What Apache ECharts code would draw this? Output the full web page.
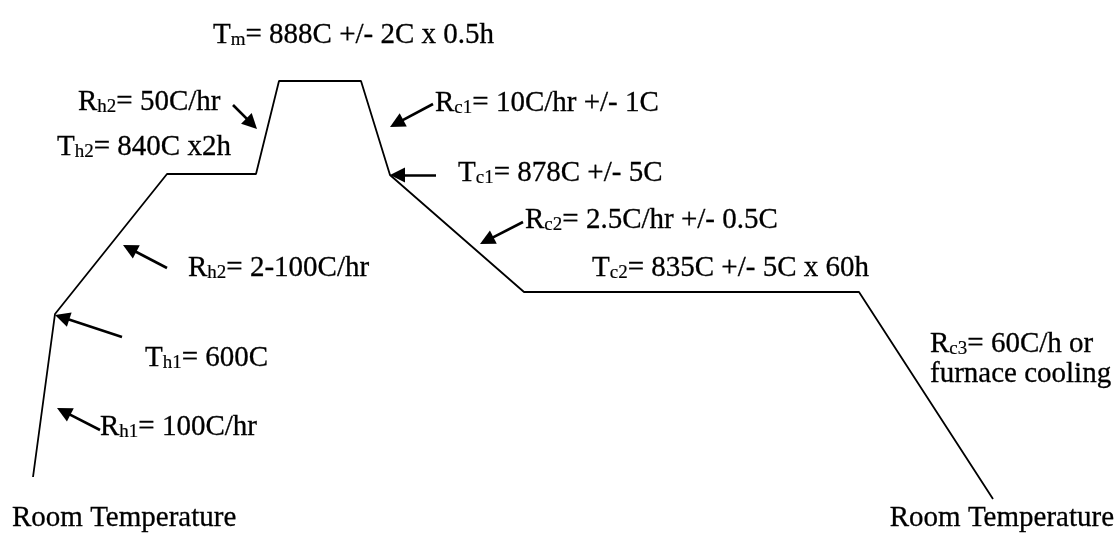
<!DOCTYPE html>
<html>
<head>
<meta charset="utf-8">
<script src="https://cdn.jsdelivr.net/npm/echarts@6/dist/echarts.min.js"></script>
<style>
  html, body { margin: 0; padding: 0; background: #fff; }
  #chart { width: 1115px; height: 533px; }
</style>
</head>
<body>
<div id="chart"></div>
<script>
// heat-treatment profile, schematic units (not to scale)
const profileX = [33, 55, 167, 256, 279, 361, 390, 524, 859, 993]
const profileY = [56, 219, 359, 359, 452, 452, 358, 241, 241, 34]

// arrows: tail -> tip
const arrowFrom = [[233, 428], [433, 429], [436, 358], [523, 311], [167, 265], [122, 196], [100, 103]]
const arrowTo = [[257, 404], [390, 406], [390, 358], [480, 289], [123, 288], [55, 218], [57, 125]]

// annotation texts, [main, sub, rest]
const noteText = [
  ['T', 'm', '= 888C +/- 2C x 0.5h'],
  ['R', 'h2', '= 50C/hr'],
  ['T', 'h2', '= 840C x2h'],
  ['R', 'c1', '= 10C/hr +/- 1C'],
  ['T', 'c1', '= 878C +/- 5C'],
  ['R', 'c2', '= 2.5C/hr +/- 0.5C'],
  ['T', 'c2', '= 835C +/- 5C x 60h'],
  ['R', 'h2', '= 2-100C/hr'],
  ['T', 'h1', '= 600C'],
  ['R', 'h1', '= 100C/hr'],
  ['R', 'c3', '= 60C/h or\nfurnace cooling'],
  ['', '', 'Room Temperature'],
  ['', '', 'Room Temperature']
]
const noteX = [213, 78, 57, 435, 458, 525, 592, 188, 145, 100, 930, 12, 1114]
const noteY = [498, 431, 386, 430, 360, 313, 265, 265, 175, 106, 174, 15, 15]
const noteAlign = ['left', 'left', 'left', 'left', 'left', 'left', 'left', 'left', 'left', 'left', 'left', 'left', 'right']

const font = 'Liberation Serif, Times New Roman, serif'
const headLen = 15

const profile = profileX.map((x, i) => [x, profileY[i]])
// the triangle head is centred on the end point, so pull the end back by half a head
const arrows = arrowFrom.map((a, i) => {
  const b = arrowTo[i]
  const dx = b[0] - a[0]
  const dy = b[1] - a[1]
  const len = Math.sqrt(dx * dx + dy * dy)
  const k = (headLen / 2) / len
  return {coords: [a, [b[0] - dx * k, b[1] - dy * k]]}
})
const notes = noteText.map((t, i) => {
  let s = ''
  if (t[0]) s += '{n|' + t[0] + '}{s|' + t[1] + '}'
  s += t[2].split('\n').map(l => '{n|' + l + '}').join('\n')
  return {
    value: [noteX[i], noteY[i]],
    label: {align: noteAlign[i], formatter: s}
  }
})

const chart = echarts.init(document.getElementById('chart'))
chart.setOption({
  animation: false,
  grid: {left: 0, right: 0, top: 0, bottom: 0},
  xAxis: {type: 'value', min: 0, max: 1115, show: false},
  yAxis: {type: 'value', min: 0, max: 533, show: false},
  series: [
    {
      type: 'line',
      data: profile,
      symbol: 'none',
      lineStyle: {color: '#000', width: 1.8},
      z: 3
    },
    {
      type: 'lines',
      coordinateSystem: 'cartesian2d',
      data: arrows,
      symbol: ['none', 'triangle'],
      symbolSize: [12, headLen],
      lineStyle: {color: '#000', width: 2.6, opacity: 1},
      z: 4
    },
    {
      type: 'scatter',
      data: notes,
      symbolSize: 0,
      silent: true,
      label: {
        show: true,
        position: [0, 0],
        verticalAlign: 'middle',
        color: '#000',
        opacity: 1,
        rich: {
          n: {fontFamily: font, fontSize: 29, lineHeight: 30, color: '#000', textBorderColor: '#000', textBorderWidth: 0.3},
          s: {fontFamily: font, fontSize: 19, lineHeight: 20, verticalAlign: 'bottom', color: '#000', textBorderColor: '#000', textBorderWidth: 0.2}
        }
      }
    }
  ]
})
</script>
</body>
</html>
